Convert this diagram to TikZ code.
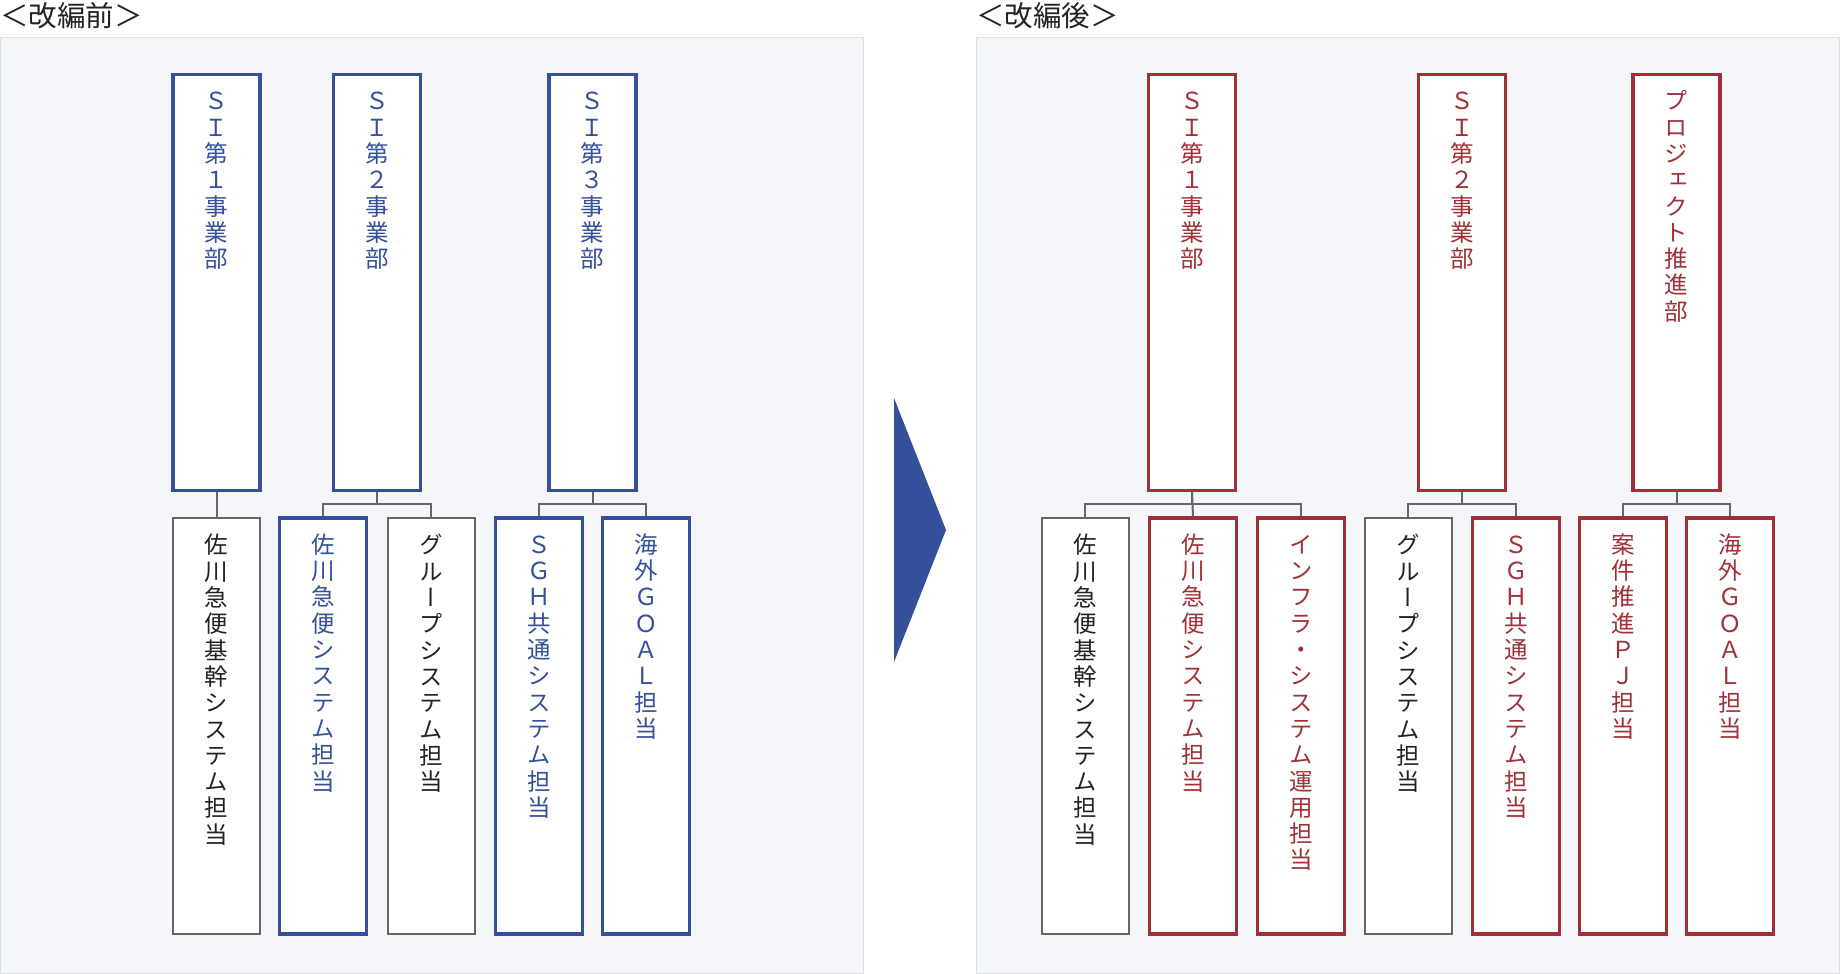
\documentclass[tikz,border=0pt]{standalone}
\usepackage{fontspec}
\newfontfamily\jp[RawFeature={+vert}]{Noto Sans CJK JP}
\newfontfamily\jph{Noto Sans CJK JP}
\definecolor{cblue}{RGB}{52,80,155}
\definecolor{cred}{RGB}{160,48,54}
\definecolor{cgray}{RGB}{102,102,102}
\definecolor{ctext}{RGB}{34,34,34}
\definecolor{panelbg}{RGB}{245,246,250}
\definecolor{panelbd}{RGB}{220,223,230}
\tikzset{
  box/.style={draw, fill=white, minimum width=87pt, minimum height=416pt, inner sep=0pt},
  bluebox/.style={box, draw=cblue, line width=3.2pt},
  redbox/.style={box, draw=cred, line width=3.2pt},
  graybox/.style={box, draw=cgray, line width=2pt},
  lbl/.style={font=\jp\fontsize{23.5}{26.3}\selectfont, align=center, inner sep=0pt, anchor=north},
  conn/.style={draw=cgray, line width=2pt},
  ttl/.style={font=\jph\fontsize{28.5}{30}\selectfont, text=ctext, anchor=west, inner sep=0pt},
  panel/.style={fill=panelbg, draw=panelbd, line width=1pt},
}
% name, cx, cy, style, text colour, text
\newcommand\orgbox[6]{%
  \node[#4] (#1) at (#2,#3) {};
  \node[lbl, text=#5] (#1l) at ([yshift=-16pt]#1.north) {\rule{0pt}{20.7pt}#6};
}
\begin{document}
\begin{tikzpicture}[x=1pt,y=-1pt]
\useasboundingbox (0,0) rectangle (1840,974);
% panels
\path[panel] (0.5,37.5) rectangle (863.5,973.5);
\path[panel] (976.5,37.5) rectangle (1839.5,973.5);
\node[ttl] (t1) at (0,16) {＜改編前＞};
\node[ttl] (t2) at (976,16) {＜改編後＞};
% arrow
\fill[cblue] (894,398) -- (946,530) -- (894,662) -- cycle;

% ---------- before ----------
\orgbox{a1}{216.5}{282.5}{bluebox}{cblue}{Ｓ\\Ｉ\\第\\１\\事\\業\\部}
\orgbox{a2}{377}{282.5}{bluebox}{cblue}{Ｓ\\Ｉ\\第\\２\\事\\業\\部}
\orgbox{a3}{592.5}{282.5}{bluebox}{cblue}{Ｓ\\Ｉ\\第\\３\\事\\業\\部}

\orgbox{b1}{216.5}{726}{graybox}{ctext}{佐\\川\\急\\便\\基\\幹\\シ\\ス\\テ\\ム\\担\\当}
\orgbox{b2}{323}{726}{bluebox}{cblue}{佐\\川\\急\\便\\シ\\ス\\テ\\ム\\担\\当}
\orgbox{b3}{431}{726}{graybox}{ctext}{グ\\ル\\ー\\プ\\シ\\ス\\テ\\ム\\担\\当}
\orgbox{b4}{539}{726}{bluebox}{cblue}{Ｓ\\Ｇ\\Ｈ\\共\\通\\シ\\ス\\テ\\ム\\担\\当}
\orgbox{b5}{646}{726}{bluebox}{cblue}{海\\外\\Ｇ\\Ｏ\\Ａ\\Ｌ\\担\\当}

\draw[conn] (a1.south) -- (b1.north);
\draw[conn] (a2.south) -- ++(0,12) -| (b2.north);
\draw[conn] (a2.south) -- ++(0,12) -| (b3.north);
\draw[conn] (a3.south) -- ++(0,12) -| (b4.north);
\draw[conn] (a3.south) -- ++(0,12) -| (b5.north);

% ---------- after ----------
\orgbox{r1}{1192}{282.5}{redbox}{cred}{Ｓ\\Ｉ\\第\\１\\事\\業\\部}
\orgbox{r2}{1462}{282.5}{redbox}{cred}{Ｓ\\Ｉ\\第\\２\\事\\業\\部}
\orgbox{r3}{1676.5}{282.5}{redbox}{cred}{プ\\ロ\\ジ\\ェ\\ク\\ト\\推\\進\\部}

\orgbox{c1}{1085}{726}{graybox}{ctext}{佐\\川\\急\\便\\基\\幹\\シ\\ス\\テ\\ム\\担\\当}
\orgbox{c2}{1193}{726}{redbox}{cred}{佐\\川\\急\\便\\シ\\ス\\テ\\ム\\担\\当}
\orgbox{c3}{1301}{726}{redbox}{cred}{イ\\ン\\フ\\ラ\\・\\シ\\ス\\テ\\ム\\運\\用\\担\\当}
\orgbox{c4}{1408}{726}{graybox}{ctext}{グ\\ル\\ー\\プ\\シ\\ス\\テ\\ム\\担\\当}
\orgbox{c5}{1516}{726}{redbox}{cred}{Ｓ\\Ｇ\\Ｈ\\共\\通\\シ\\ス\\テ\\ム\\担\\当}
\orgbox{c6}{1623}{726}{redbox}{cred}{案\\件\\推\\進\\Ｐ\\Ｊ\\担\\当}
\orgbox{c7}{1730}{726}{redbox}{cred}{海\\外\\Ｇ\\Ｏ\\Ａ\\Ｌ\\担\\当}

\draw[conn] (r1.south) -- ++(0,12) -| (c1.north);
\draw[conn] (r1.south) -- (c2.north);
\draw[conn] (r1.south) -- ++(0,12) -| (c3.north);
\draw[conn] (r2.south) -- ++(0,12) -| (c4.north);
\draw[conn] (r2.south) -- ++(0,12) -| (c5.north);
\draw[conn] (r3.south) -- ++(0,12) -| (c6.north);
\draw[conn] (r3.south) -- ++(0,12) -| (c7.north);
\end{tikzpicture}
\end{document}
